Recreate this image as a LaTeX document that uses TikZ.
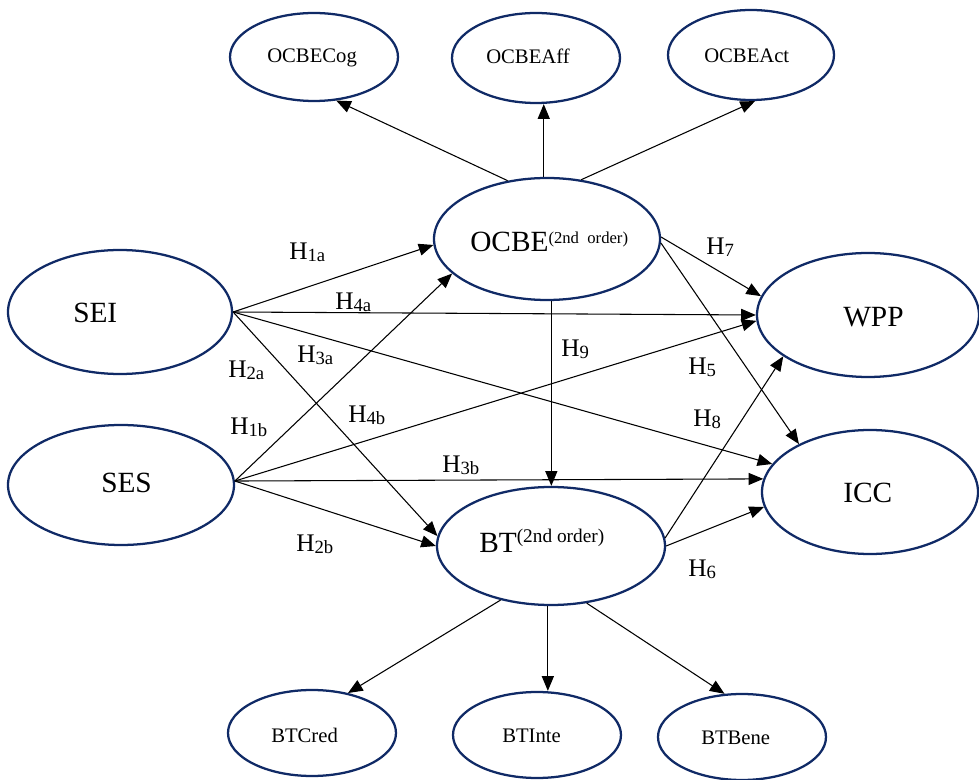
\documentclass[tikz,border=0pt]{standalone}
\usepackage{fontspec}
\setmainfont{Liberation Serif}
\usetikzlibrary{shapes.geometric,arrows.meta}
\definecolor{navy}{RGB}{16,42,102}
\newcommand{\Hl}[1]{H\raisebox{-0.15ex}{\fontsize{14}{16}\selectfont #1}}
\newcommand{\ordA}{\raisebox{6.5pt}{\fontsize{12.5}{14}\selectfont (2nd\ \ order)}}
\newcommand{\ordB}{\raisebox{7.5pt}{\fontsize{14.5}{16}\selectfont (2nd order)}}
\tikzset{
  ell/.style={ellipse, draw=navy, line width=1.7pt, inner sep=0pt},
  big/.style={anchor=base west, inner sep=0pt, font=\fontsize{22}{26}\selectfont},
  small/.style={anchor=base west, inner sep=0pt, font=\fontsize{15.5}{18}\selectfont},
  hyp/.style={anchor=base west, inner sep=0pt, font=\fontsize{19}{22}\selectfont},
  con/.style={line width=0.8pt, -{Triangle[length=11pt,width=9pt]}}
}
\begin{document}
\begin{tikzpicture}[x=0.75pt,y=-0.75pt]
\useasboundingbox (0,0) rectangle (979,780);
% ellipses
\node[ell, minimum width=126pt, minimum height=66pt] (ocbecog) at (314,57) {};
\node[ell, minimum width=126pt, minimum height=67.5pt] (ocbeaff) at (536,58) {};
\node[ell, minimum width=124.5pt, minimum height=67.5pt] (ocbeact) at (751,55) {};
\node[ell, minimum width=169.5pt, minimum height=91.5pt] (ocbe) at (547,239) {};
\node[ell, minimum width=168pt, minimum height=93pt] (sei) at (120,312) {};
\node[ell, minimum width=169.5pt, minimum height=90pt] (ses) at (121,485) {};
\node[ell, minimum width=166.5pt, minimum height=93pt] (wpp) at (868,315) {};
\node[ell, minimum width=162pt, minimum height=93pt] (icc) at (870,492) {};
\node[ell, minimum width=171pt, minimum height=88.5pt] (bt) at (551,546) {};
\node[ell, minimum width=126pt, minimum height=64.5pt] (btcred) at (312,733) {};
\node[ell, minimum width=126pt, minimum height=64.5pt] (btinte) at (537,735) {};
\node[ell, minimum width=126pt, minimum height=64.5pt] (btbene) at (742,737) {};
% texts
\node[small] (tcog) at (267,63) {OCBECog};
\node[small] (taff) at (486,64) {OCBEAff};
\node[small] (tact) at (704,63) {OCBEAct};
\node[big] (tocbe) at (470,252) {OCBE\ordA};
\node[big] (tsei) at (73,323) {SEI};
\node[big] (tses) at (101,493) {SES};
\node[big] (twpp) at (843,327) {WPP};
\node[big] (ticc) at (843,503) {ICC};
\node[big] (tbt) at (479,553) {BT\ordB};
\node[small] (tcred) at (271,742) {BTCred};
\node[small] (tinte) at (502,742) {BTInte};
\node[small] (tbene) at (701,744) {BTBene};
% connectors
\draw[con] (ocbe.124.6) -- (ocbecog.-63);
\draw[con] (ocbe.93) -- (ocbe.93 |- ocbeaff.south);
\draw[con] (ocbe.60.8) -- (ocbeact.-85);
\draw[con] (sei.0.5) -- (ocbe.183);
\draw[con] (sei.0.5) -- (wpp.180);
\draw[con] (sei.0.5) -- (icc.164.5);
\draw[con] (sei.0.5) -- (bt.175.5);
\draw[con] (ses.2) -- (ocbe.200.3);
\draw[con] (ses.2) -- (wpp.183.6);
\draw[con] (ses.2) -- (icc.173);
\draw[con] (ses.2) -- (bt.180.5);
\draw[con] (ocbe.1) -- (wpp.170.8);
\draw[con] (ocbe.-2) -- (icc.146.8);
\draw[con] (ocbe.-86) -- (ocbe.-86 |- bt.north);
\draw[con] (bt.4) -- (wpp.206);
\draw[con] (bt.-0.5) -- (icc.188.7);
\draw[con] (bt.227) -- (btcred.48.5);
\draw[con] (bt.-93) -- (bt.-93 |- btinte.north);
\draw[con] (bt.-58) -- (btbene.112.5);
% hypothesis labels
\node[hyp] (h1a) at (289,260) {\Hl{1a}};
\node[hyp] (h4a) at (335,310) {\Hl{4a}};
\node[hyp] (h3a) at (297,363) {\Hl{3a}};
\node[hyp] (h2a) at (228,378) {\Hl{2a}};
\node[hyp] (h1b) at (230,435) {\Hl{1b}};
\node[hyp] (h4b) at (348,423) {\Hl{4b}};
\node[hyp] (h3b) at (442,473) {\Hl{3b}};
\node[hyp] (h2b) at (296,552) {\Hl{2b}};
\node[hyp] (h7) at (706,255) {\Hl{7}};
\node[hyp] (h9) at (561,357) {\Hl{9}};
\node[hyp] (h5) at (688,375) {\Hl{5}};
\node[hyp] (h8) at (693,427) {\Hl{8}};
\node[hyp] (h6) at (688,577) {\Hl{6}};
\end{tikzpicture}
\end{document}
